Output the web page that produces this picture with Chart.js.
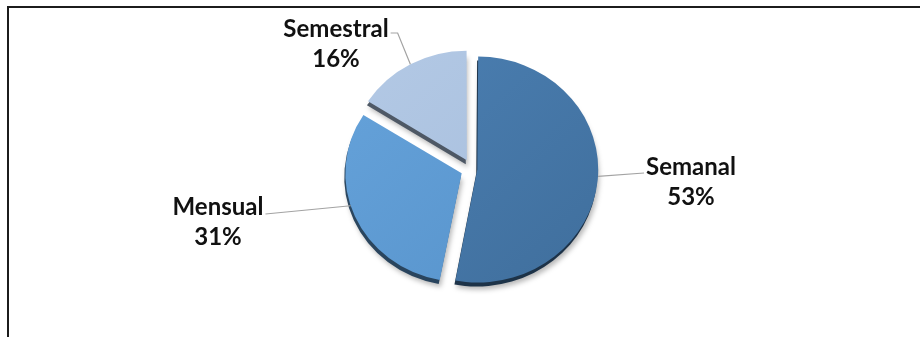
<!DOCTYPE html>
<html>
<head>
<meta charset="utf-8">
<script src="https://cdn.jsdelivr.net/npm/chart.js@4.4.1/dist/chart.umd.min.js"></script>
<style>
  html, body { margin: 0; padding: 0; background: #ffffff; }
  #wrap { position: relative; width: 920px; height: 337px; overflow: hidden; }
  #frame { position: absolute; left: 7px; top: 6px; width: 930px; height: 340px;
           border-left: 2px solid #1c1c1c; border-top: 2px solid #1c1c1c;
           box-shadow: -1px -1px 0 #9a9a9a inset; pointer-events: none; }
  canvas { position: absolute; left: 0; top: 0; }
</style>
</head>
<body>
<div id="wrap">
  <canvas id="pie" width="920" height="337"></canvas>
  <div id="frame"></div>
</div>
<script>
// Frequency categories and their share of answers (percent)
const categories = ['Semanal', 'Mensual', 'Semestral'];
const shares = [53, 31, 16];

// Slice colours: lighter and darker stop of each slice's gradient
const lightColors = ['#4b7fb2', '#65a2da', '#b3c9e5'];
const darkColors  = ['#406f9d', '#5793cb', '#a6bddc'];
// How far each slice is pulled out of the pie
const sliceOffsets = [20, 42, 40];

// Label layout: centre x of the text block, baseline of first line,
// side the leader line leaves from, and angle shift of its anchor (deg)
const labelLayout = [
  { x: 691, y: 175, side: 'left',  shift: -2 },
  { x: 218, y: 215, side: 'right', shift: 6 },
  { x: 336, y: 37,  side: 'elbow', shift: 0 }
];

const PIE_RADIUS = 108;
const STRETCH_X = 1.07;   // slight tilt: pie drawn a little wider than tall
const LABEL_FONT = 'bold 24px Lato';
const LINE_GAP = 30;

function sliceFill(ctx) {
  const i = ctx.dataIndex;
  const area = ctx.chart.chartArea;
  if (!area) return lightColors[i];
  const cx = (area.left + area.right) / 2, cy = (area.top + area.bottom) / 2;
  const g = ctx.chart.ctx.createLinearGradient(cx - PIE_RADIUS, cy - PIE_RADIUS,
                                               cx + PIE_RADIUS, cy + PIE_RADIUS);
  g.addColorStop(0, lightColors[i]);
  g.addColorStop(1, darkColors[i]);
  return g;
}

function pieCentre(chart) {
  const a = chart.chartArea;
  return { x: (a.left + a.right) / 2, y: (a.top + a.bottom) / 2 };
}

// Where Chart.js moves an exploded arc (same rule as ArcElement.draw)
function arcCentre(el) {
  const offset = (el.options.offset || 0) / 4;
  const mid = (el.startAngle + el.endAngle) / 2;
  const fix = 1 - Math.sin(Math.min(Math.PI, el.circumference || 0));
  const t = offset + offset * fix;
  return { x: el.x + Math.cos(mid) * t, y: el.y + Math.sin(mid) * t, mid: mid };
}

// Stretch the pie horizontally, then lay a dark rim and soft shadow under each slice
const rimPlugin = {
  id: 'rim',
  beforeDatasetsDraw(chart) {
    const ctx = chart.ctx;
    const c = pieCentre(chart);
    ctx.save();
    ctx.translate(c.x, c.y);
    ctx.scale(STRETCH_X, 1);
    ctx.translate(-c.x, -c.y);
    chart.getDatasetMeta(0).data.forEach(el => {
      ctx.save();
      ctx.shadowColor = 'rgba(0,0,0,0.28)';
      ctx.shadowBlur = 5;
      ctx.shadowOffsetX = 2;
      ctx.shadowOffsetY = 3;
      ctx.translate(-1, 4);
      ctx.filter = 'brightness(0.45)';
      el.draw(ctx);
      ctx.restore();
    });
  },
  afterDatasetsDraw(chart) {
    chart.ctx.restore();
  }
};

// Category name and percentage outside the pie, joined by leader lines
const labelPlugin = {
  id: 'outsideLabels',
  afterDatasetsDraw(chart) {
    const ctx = chart.ctx;
    const meta = chart.getDatasetMeta(0);
    const pc = pieCentre(chart);
    ctx.save();
    ctx.font = LABEL_FONT;
    ctx.textAlign = 'center';
    ctx.textBaseline = 'alphabetic';
    meta.data.forEach((el, i) => {
      const lay = labelLayout[i];
      const c = arcCentre(el);
      const a = c.mid + lay.shift * Math.PI / 180;
      const ax = pc.x + (c.x + Math.cos(a) * el.outerRadius - pc.x) * STRETCH_X;
      const ay = c.y + Math.sin(a) * el.outerRadius;
      const name = categories[i];
      const pct = shares[i] + '%';
      const w = ctx.measureText(name).width;

      ctx.strokeStyle = '#a3a3a3';
      ctx.lineWidth = 1.2;
      ctx.beginPath();
      if (lay.side === 'left') {
        ctx.moveTo(ax, ay);
        ctx.lineTo(lay.x - w / 2 - 2, lay.y - 2);
      } else if (lay.side === 'right') {
        ctx.moveTo(ax, ay);
        ctx.lineTo(lay.x + w / 2 + 2, lay.y - 1);
      } else {
        const ex = lay.x + w / 2 + 2;
        ctx.moveTo(ex, lay.y - 4);
        ctx.lineTo(ex + 7, lay.y - 4);
        ctx.lineTo(ax, ay);
      }
      ctx.stroke();

      ctx.fillStyle = '#111111';
      ctx.fillText(name, lay.x, lay.y);
      ctx.fillText(pct, lay.x, lay.y + LINE_GAP);
    });
    ctx.restore();
  }
};

function build() {
  new Chart(document.getElementById('pie'), {
    type: 'pie',
    data: {
      labels: categories,
      datasets: [{
        data: shares,
        backgroundColor: sliceFill,
        borderWidth: 0,
        offset: sliceOffsets
      }]
    },
    options: {
      responsive: false,
      animation: false,
      events: [],
      radius: PIE_RADIUS,
      layout: { padding: { left: 24, right: 0, top: 1, bottom: 0 } },
      plugins: { legend: { display: false }, tooltip: { enabled: false } }
    },
    plugins: [rimPlugin, labelPlugin]
  });
}

document.fonts.load(LABEL_FONT).then(build, build);
</script>
</body>
</html>
